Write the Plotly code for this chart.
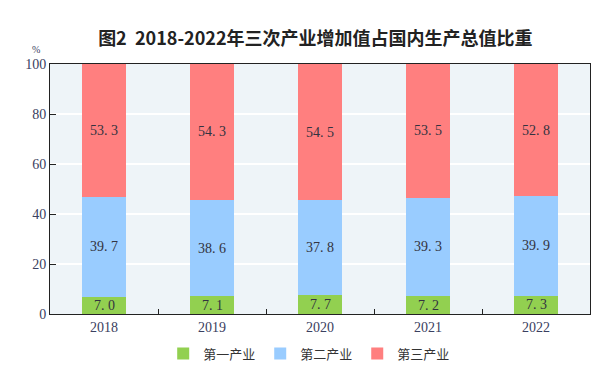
import plotly.graph_objects as go

years = ["2018", "2019", "2020", "2021", "2022"]
primary = [7.0, 7.1, 7.7, 7.2, 7.3]
secondary = [39.7, 38.6, 37.8, 39.3, 39.9]
tertiary = [53.3, 54.3, 54.5, 53.5, 52.8]
names = ["第一产业", "第二产业", "第三产业"]
colors = ["#92D050", "#99CCFF", "#FF7F7F"]
y_ticks = [0, 20, 40, 60, 80, 100]

fig = go.Figure()
for vals, name, col in zip([primary, secondary, tertiary], names, colors):
    fig.add_trace(go.Bar(x=years, y=vals, name=name, marker=dict(color=col, line=dict(width=0)),
                         width=0.4))

label_font = dict(family="Liberation Serif, DejaVu Serif, serif", size=14, color="#333340")
for i, yr in enumerate(years):
    p, s, t = primary[i], secondary[i], tertiary[i]
    fig.add_annotation(x=i, y=p / 2, text=f"{p:.1f}".replace(".", ". "), showarrow=False, font=label_font)
    fig.add_annotation(x=i, y=p + s / 2, text=f"{s:.1f}".replace(".", ". "), showarrow=False, font=label_font)
    fig.add_annotation(x=i, y=p + s + t / 2, text=f"{t:.1f}".replace(".", ". "), showarrow=False, font=label_font)

fig.add_annotation(xref="paper", yref="paper", x=-0.037, y=1.088, text="%", showarrow=False,
                   font=dict(family="Liberation Serif, serif", size=10, color="#3A4060"))

tick_font = dict(family="Liberation Serif, DejaVu Serif, serif", size=14, color="#3A4060")

fig.update_layout(
    width=605, height=381,
    margin=dict(l=42, r=23, t=56, b=75, autoexpand=False),
    barmode="stack",
    bargap=0.6,
    plot_bgcolor="#EEF4F8",
    paper_bgcolor="white",
    title=dict(text="<b>图2  2018-2022年三次产业增加值占国内生产总值比重</b>", x=0.508, xanchor="center",
               y=0.92, yanchor="middle",
               font=dict(family="Noto Sans CJK SC", size=18, color="#222222")),
    legend=dict(orientation="h", x=0.48, xanchor="center", y=-0.098, yanchor="top",
                font=dict(family="Noto Sans CJK SC", size=13, color="#333333"),
                itemwidth=30, traceorder="normal"),
    showlegend=True,
)
fig.update_xaxes(
    type="category", tickson="boundaries", ticks="inside", ticklen=5, tickcolor="#222222",
    showline=True, linecolor="#222222", linewidth=1, mirror=True, showgrid=False,
    tickfont=tick_font,
)
fig.update_yaxes(
    range=[0, 100], tickvals=y_ticks, showgrid=True, gridcolor="white", gridwidth=1.5,
    showline=True, linecolor="#222222", linewidth=1, mirror=True,
    ticks="inside", ticklen=6, tickcolor="#222222",
    tickfont=tick_font,
    zeroline=False,
)

fig.write_html("out.html")
